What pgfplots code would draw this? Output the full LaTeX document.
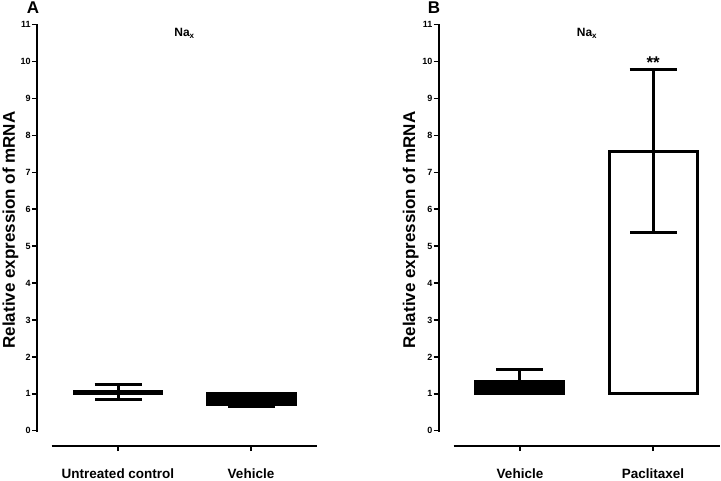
\documentclass[border=0pt]{standalone}
\usepackage{fontspec}
\setmainfont{Liberation Sans}
\usepackage{pgfplots}
\pgfplotsset{compat=1.18}

\pgfplotsset{
  mainax/.style={
    scale only axis, width=281pt, height=406pt,
    xmin=-0.61, xmax=1.5, ymin=0, ymax=11,
    axis y line*=left, axis x line=none,
    ytick={0,1,...,11},
    tick align=outside, major tick length=5pt,
    axis line style={line width=2pt, line cap=rect},
    y tick style={line width=1.5pt, black},
    /pgf/number format/assume math mode=true,
    yticklabel style={font=\fontsize{9}{10}\selectfont\bfseries, inner sep=1pt},
    clip=false,
  },
  xax/.style={
    scale only axis, width=266pt, height=10pt,
    xmin=-0.5, xmax=1.5, ymin=0, ymax=1,
    axis x line*=bottom, axis y line=none,
    xtick={0,1},
    tick align=outside, major tick length=5pt,
    axis line style={line width=2pt},
    x tick style={line width=1.5pt, black},
    xticklabel style={font=\fontsize{13.5}{15}\selectfont\bfseries, anchor=base, yshift=-27pt},
  },
  barst/.style={draw=black, line width=3pt, line join=miter},
  errst/.style={draw=none, forget plot,
    error bars/.cd, y dir=#1, y explicit,
    error bar style={line width=3pt, black},
    error mark options={rotate=90, line width=3pt, mark size=23.5pt, black}},
}

\begin{document}
\begin{tikzpicture}
\useasboundingbox (0pt,0pt) rectangle (721pt,480pt);

% ---------------- Panel A ----------------
\begin{axis}[mainax, at={(36.8pt,49.3pt)}, anchor=south west]
  % Untreated control
  \addplot[barst, fill=black] coordinates {(-0.33,1) (-0.33,1.05) (0.33,1.05) (0.33,1)} -- cycle;
  \addplot[errst=both] coordinates {(0,1.05) +- (0,0.21)};
  % Vehicle
  \addplot[barst, fill=black] coordinates {(0.67,1) (0.67,0.72) (1.33,0.72) (1.33,1)} -- cycle;
  \addplot[errst=minus] coordinates {(1,0.72) -= (0,0.07)};
\end{axis}
\begin{axis}[xax, at={(51.5pt,34pt)}, anchor=south west, xticklabels={Untreated control, Vehicle}]
  \addplot[draw=none] coordinates {(0,0.5) (1,0.5)};
\end{axis}

% ---------------- Panel B ----------------
\begin{axis}[mainax, at={(438.7pt,49.3pt)}, anchor=south west]
  % Vehicle
  \addplot[barst, fill=black] coordinates {(-0.33,1) (-0.33,1.33) (0.33,1.33) (0.33,1)} -- cycle;
  \addplot[errst=plus] coordinates {(0,1.33) += (0,0.32)};
  % Paclitaxel
  \addplot[barst, fill=white] coordinates {(0.67,1) (0.67,7.57) (1.33,7.57) (1.33,1)} -- cycle;
  \addplot[errst=both] coordinates {(1,7.57) +- (0,2.21)};
  \node[font=\fontsize{17}{19}\selectfont\bfseries] at (axis cs:1,9.98) {**};
\end{axis}
\begin{axis}[xax, at={(453.5pt,34pt)}, anchor=south west, xticklabels={Vehicle, Paclitaxel}]
  \addplot[draw=none] coordinates {(0,0.5) (1,0.5)};
\end{axis}

% ---------------- Texts ----------------
\node[font=\fontsize{17}{19}\selectfont\bfseries] at (33pt,472pt) {A};
\node[font=\fontsize{17}{19}\selectfont\bfseries] at (434pt,472pt) {B};
\node[font=\fontsize{12}{14}\selectfont\bfseries] at (184.5pt,447pt) {Na\textsubscript{x}};
\node[font=\fontsize{12}{14}\selectfont\bfseries] at (587pt,447pt) {Na\textsubscript{x}};
\node[rotate=90, anchor=base, font=\fontsize{17}{19}\selectfont\bfseries] at (15pt,250pt) {Relative expression of mRNA};
\node[rotate=90, anchor=base, font=\fontsize{17}{19}\selectfont\bfseries] at (415pt,250pt) {Relative expression of mRNA};
\end{tikzpicture}
\end{document}
